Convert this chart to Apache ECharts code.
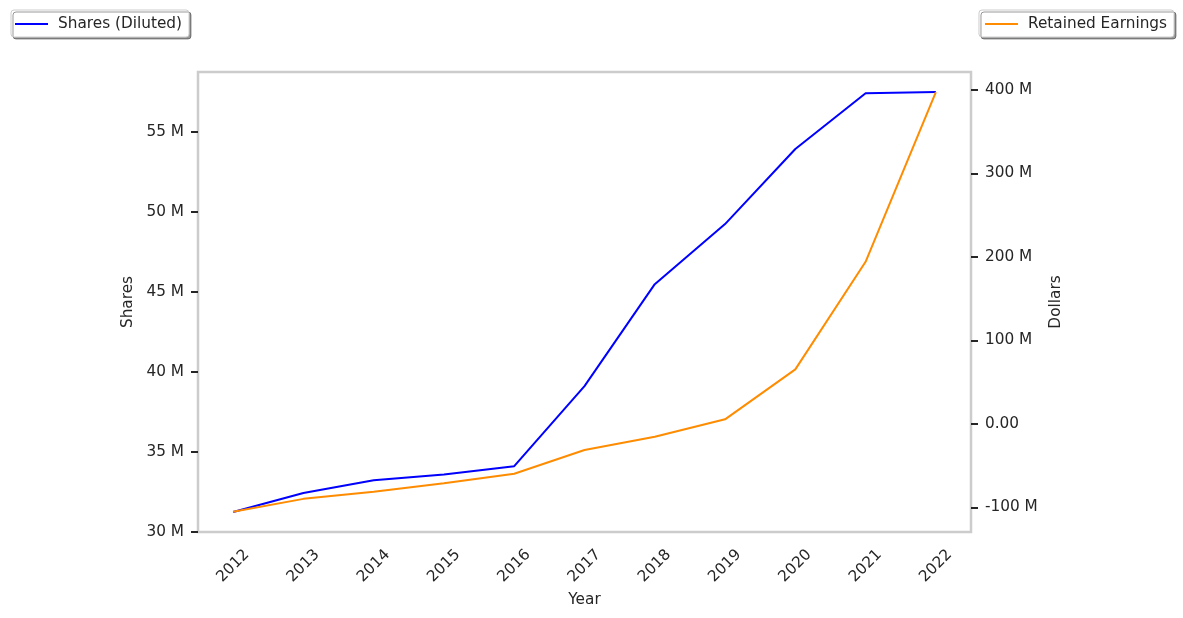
<!DOCTYPE html>
<html>
<head>
<meta charset="utf-8">
<script src="https://cdn.jsdelivr.net/npm/echarts@6/dist/echarts.min.js"></script>
<style>
html,body{margin:0;padding:0;background:#fff;}
#chart{width:1183px;height:618px;}
</style>
</head>
<body>
<div id="chart"></div>
<script>
const years = ['2012','2013','2014','2015','2016','2017','2018','2019','2020','2021','2022'];
const sharesDiluted = [31.25e6, 32.44e6, 33.23e6, 33.59e6, 34.11e6, 39.11e6, 45.48e6, 49.23e6, 53.92e6, 57.40e6, 57.48e6];
const retainedEarnings = [-105.3e6, -89.9e6, -81.4e6, -71.3e6, -59.8e6, -31.4e6, -15.5e6, 5.4e6, 65.3e6, 194.2e6, 397.6e6];
const leftTicks = [30e6, 35e6, 40e6, 45e6, 50e6, 55e6];
const rightTicks = [-100e6, 0, 100e6, 200e6, 300e6, 400e6];

const FONT = 'DejaVu Sans';
const TXT = '#262626';
const fs = 15.3;

function fmtM(v){
  if (v === 0) return '0.00';
  return Math.round(v/1e6) + ' M';
}

const legendBase = {
  top: 10,
  orient: 'horizontal',
  backgroundColor: '#fff',
  borderColor: '#cccccc',
  borderWidth: 1,
  borderRadius: 3,
  padding: [6, 7, 5, 4],
  shadowColor: 'rgba(0,0,0,0.4)',
  shadowBlur: 0,
  shadowOffsetX: 2,
  shadowOffsetY: 2,
  icon: 'rect',
  itemWidth: 33,
  itemHeight: 2,
  textStyle: {fontFamily: FONT, fontSize: fs, color: TXT, padding: [0,0,0,5], lineHeight: 16}
};

const chart = echarts.init(document.getElementById('chart'), null, {renderer: 'canvas'});
chart.setOption({
  animation: false,
  backgroundColor: '#fff',
  textStyle: {fontFamily: FONT},
  legend: [
    Object.assign({}, legendBase, {left: 11, data: ['Shares (Diluted)']}),
    Object.assign({}, legendBase, {right: 9, padding: [6, 7, 5, 6], data: ['Retained Earnings']})
  ],
  grid: {
    left: 198, right: 212, top: 72, bottom: 86,
    show: true, borderColor: '#cccccc', borderWidth: 2.5, backgroundColor: 'transparent',
    containLabel: false
  },
  xAxis: {
    type: 'category',
    data: years,
    boundaryGap: true,
    name: 'Year',
    nameLocation: 'middle',
    nameGap: 57,
    nameTextStyle: {fontFamily: FONT, fontSize: fs, color: TXT, verticalAlign: 'top'},
    axisLine: {show: false},
    axisTick: {show: false},
    splitLine: {show: false},
    axisLabel: {
      rotate: 45, align: 'center', verticalAlign: 'middle', margin: 34,
      fontFamily: FONT, fontSize: fs, color: TXT, interval: 0
    }
  },
  yAxis: [
    {
      type: 'value',
      position: 'left',
      min: 30e6, max: 58.73e6,
      name: 'Shares',
      nameLocation: 'middle',
      nameGap: 58,
      nameTextStyle: {fontFamily: FONT, fontSize: fs, color: TXT},
      axisLine: {show: false},
      axisTick: {show: true, length: 7, lineStyle: {color: '#262626', width: 2}, customValues: leftTicks},
      splitLine: {show: false},
      axisLabel: {fontFamily: FONT, fontSize: fs, color: TXT, margin: 14, formatter: fmtM, customValues: leftTicks}
    },
    {
      type: 'value',
      position: 'right',
      min: -129.6e6, max: 421.6e6,
      name: 'Dollars',
      nameLocation: 'middle',
      nameGap: 74,
      nameTextStyle: {fontFamily: FONT, fontSize: fs, color: TXT},
      axisLine: {show: false},
      axisTick: {show: true, length: 7, lineStyle: {color: '#262626', width: 2}, customValues: rightTicks},
      splitLine: {show: false},
      axisLabel: {fontFamily: FONT, fontSize: fs, color: TXT, margin: 14, formatter: fmtM, customValues: rightTicks}
    }
  ],
  series: [
    {
      name: 'Shares (Diluted)', type: 'line', yAxisIndex: 0,
      data: sharesDiluted, symbol: 'none',
      lineStyle: {color: '#0000ff', width: 2}, itemStyle: {color: '#0000ff'}
    },
    {
      name: 'Retained Earnings', type: 'line', yAxisIndex: 1,
      data: retainedEarnings, symbol: 'none',
      lineStyle: {color: '#ff8c00', width: 2}, itemStyle: {color: '#ff8c00'}
    }
  ]
});
</script>
</body>
</html>
